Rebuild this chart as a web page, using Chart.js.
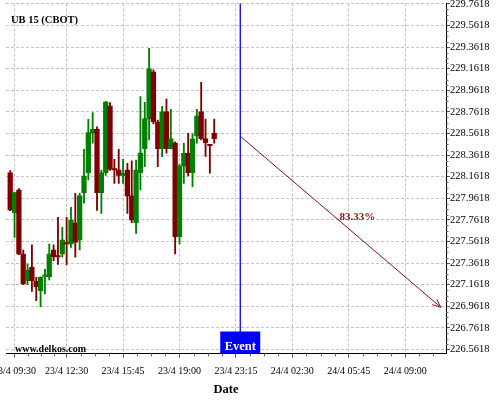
<!DOCTYPE html>
<html>
<head>
<meta charset="utf-8">
<script src="https://cdn.jsdelivr.net/npm/chart.js@4.4.1/dist/chart.umd.min.js"></script>
<style>
  html, body { margin: 0; padding: 0; background: #fff; }
</style>
</head>
<body>
<canvas id="chart" width="500" height="400"></canvas>
<script>
// 15 min candles, index 0 = 23/4 09:15
const opens = [228.199, 227.829, 228.039, 227.446, 227.199, 227.323, 227.194, 227.106, 227.238, 227.236,
  227.483, 227.428, 227.446, 227.548, 227.539, 227.733, 227.576, 228.014, 228.199, 228.567,
  228.601, 228.014, 228.199, 228.817, 228.231, 228.224, 228.175, 228.224, 227.984, 227.736,
  228.199, 228.422, 228.697, 229.132, 228.669, 228.422, 228.764, 228.422, 228.474, 227.607,
  228.261, 228.379, 228.199, 228.539, 228.762, 228.514, 228.456, 228.564];
const closes = [227.854, 228.014, 227.446, 227.169, 227.298, 227.199, 227.143, 227.231, 227.244, 227.446,
  227.421, 227.419, 227.576, 227.539, 227.761, 227.557, 227.984, 228.169, 228.570, 228.601,
  228.014, 228.199, 228.854, 228.231, 228.224, 228.175, 228.194, 227.984, 227.761, 228.224,
  228.382, 228.697, 229.160, 228.672, 228.422, 228.764, 228.422, 228.514, 227.607, 228.261,
  228.379, 228.199, 228.511, 228.724, 228.514, 228.477, 228.449, 228.514];
const highs = [228.218, 228.014, 228.053, 227.483, 227.354, 227.532, 227.231, 227.236, 227.305, 227.539,
  227.532, 227.786, 227.694, 227.786, 227.879, 228.009, 228.009, 228.416, 228.694, 228.755,
  228.625, 228.224, 228.860, 228.848, 228.323, 228.416, 228.323, 228.286, 228.310, 228.317,
  228.903, 228.851, 229.352, 229.151, 228.687, 228.814, 228.880, 228.787, 228.484, 228.280,
  228.472, 228.564, 228.558, 228.787, 229.037, 228.695, 228.461, 228.695];
const lows = [227.847, 227.601, 227.440, 227.162, 227.162, 227.101, 227.014, 226.958, 227.076, 227.206,
  227.384, 227.349, 227.416, 227.347, 227.508, 227.416, 227.483, 227.916, 228.132, 228.472,
  227.849, 227.823, 228.173, 228.220, 228.101, 228.101, 228.101, 227.823, 227.736, 227.638,
  228.039, 228.255, 228.502, 228.650, 228.255, 228.348, 228.379, 228.419, 227.446, 227.539,
  228.101, 228.169, 228.070, 228.472, 228.502, 228.349, 228.194, 228.472];

const xTickIndex = [1, 13, 26, 39, 52, 65, 78, 91];
const xTickLabels = ['23/4 09:30', '23/4 12:30', '23/4 15:45', '23/4 19:00',
  '23/4 23:15', '24/4 02:30', '24/4 05:45', '24/4 09:00'];
const yTickValues = [226.5618, 226.7618, 226.9618, 227.1618, 227.3618, 227.5618, 227.7618, 227.9618,
  228.1618, 228.3618, 228.5618, 228.7618, 228.9618, 229.1618, 229.3618, 229.5618, 229.7618];

const eventIndex = 53;
const forecastPath = [{ x: 53.2, y: 228.53 }, { x: 99.2, y: 226.953 }];
const forecastText = '83.33%';
const forecastTextAt = { x: 80, y: 227.79 };

const UP = '#008000';
const DOWN = '#800000';
const SERIF = '"Liberation Serif", "Times New Roman", serif';

const candleColors = opens.map((o, i) => (closes[i] >= o ? UP : DOWN));
const bodies = opens.map((o, i) => ({ x: i, y: [o, closes[i]] }));
const wicks = opens.map((o, i) => ({ x: i, y: [lows[i], highs[i]] }));

function noPad(scale) {
  scale.paddingLeft = 0;
  scale.paddingRight = 0;
  scale.paddingTop = 0;
  scale.paddingBottom = 0;
}

const overlay = {
  id: 'overlay',
  afterDraw(chart) {
    const { ctx, chartArea, scales: { x, y } } = chart;
    ctx.save();

    // minor ticks
    ctx.strokeStyle = '#666';
    ctx.lineWidth = 1;
    ctx.beginPath();
    const minorX = [];
    for (let k = 0; k < xTickIndex.length - 1; k++) {
      const a = xTickIndex[k], b = xTickIndex[k + 1];
      for (let j = 1; j < 4; j++) minorX.push(a + (b - a) * j / 4);
    }
    for (let v = xTickIndex[xTickIndex.length - 1] + 3.25; v <= x.max; v += 3.25) minorX.push(v);
    minorX.forEach(v => {
      const px = Math.round(x.getPixelForValue(v)) + 0.5;
      ctx.moveTo(px, chartArea.bottom);
      ctx.lineTo(px, chartArea.bottom + 3);
    });
    for (let k = 0; k < yTickValues.length - 1; k++) {
      for (let j = 1; j < 4; j++) {
        const py = Math.round(y.getPixelForValue(yTickValues[k] + 0.05 * j)) + 0.5;
        ctx.moveTo(chartArea.right, py);
        ctx.lineTo(chartArea.right + 2.5, py);
      }
    }
    ctx.stroke();

    // event marker
    const ex = x.getPixelForValue(eventIndex);
    ctx.strokeStyle = '#0000ff';
    ctx.lineWidth = 1.3;
    ctx.beginPath();
    ctx.moveTo(ex, chartArea.top);
    ctx.lineTo(ex, chartArea.bottom);
    ctx.stroke();
    ctx.fillStyle = '#0000ff';
    ctx.fillRect(ex - 20, chartArea.bottom - 22, 40, 22);
    ctx.fillStyle = '#ffffff';
    ctx.font = 'bold 12.5px ' + SERIF;
    ctx.textAlign = 'center';
    ctx.textBaseline = 'middle';
    ctx.fillText('Event', ex, chartArea.bottom - 7);

    // arrow head on the forecast line
    const pts = chart.getDatasetMeta(2).data;
    const p0 = pts[0], p1 = pts[1];
    const ang = Math.atan2(p1.y - p0.y, p1.x - p0.x);
    ctx.strokeStyle = '#8b1010';
    ctx.lineWidth = 1;
    ctx.beginPath();
    ctx.moveTo(p1.x - 9 * Math.cos(ang - 0.4), p1.y - 9 * Math.sin(ang - 0.4));
    ctx.lineTo(p1.x, p1.y);
    ctx.lineTo(p1.x - 9 * Math.cos(ang + 0.4), p1.y - 9 * Math.sin(ang + 0.4));
    ctx.stroke();

    ctx.fillStyle = '#8b1010';
    ctx.font = 'bold 11px ' + SERIF;
    ctx.fillText(forecastText, x.getPixelForValue(forecastTextAt.x), y.getPixelForValue(forecastTextAt.y));

    // captions
    ctx.fillStyle = '#000';
    ctx.textAlign = 'left';
    ctx.font = 'bold 10.5px ' + SERIF;
    ctx.fillText('UB 15 (CBOT)', 11, 20.5);
    ctx.font = 'bold 10px ' + SERIF;
    ctx.fillText('www.delkos.com', 15, 349);
    ctx.restore();
  }
};

new Chart(document.getElementById('chart'), {
  type: 'bar',
  data: {
    datasets: [
      {
        data: bodies,
        backgroundColor: candleColors,
        barThickness: 4.6,
        minBarLength: 1.5,
        grouped: false,
      },
      {
        data: wicks,
        backgroundColor: candleColors,
        barThickness: 1.2,
        grouped: false,
      },
      {
        type: 'line',
        data: forecastPath,
        borderColor: '#8b1010',
        borderWidth: 1,
        pointRadius: 0,
      },
    ],
  },
  options: {
    responsive: false,
    animation: false,
    layout: { padding: { left: 6, top: 3.5, right: 0, bottom: 0 } },
    plugins: { legend: { display: false }, tooltip: { enabled: false } },
    scales: {
      x: {
        type: 'linear',
        min: -0.97,
        max: 100.4,
        offset: false,
        afterBuildTicks: scale => { scale.ticks = xTickIndex.map(v => ({ value: v })); },
        afterFit: scale => { scale.height = 46.5; noPad(scale); },
        grid: { offset: false, color: '#c4c4c4', tickColor: '#555', tickLength: 4 },
        border: { color: '#000', width: 1, dash: [3, 2] },
        ticks: {
          autoSkip: false,
          maxRotation: 0,
          padding: 7.5,
          color: '#000',
          font: { family: SERIF, size: 10 },
          callback: value => xTickLabels[xTickIndex.indexOf(value)],
        },
        title: {
          display: true,
          text: 'Date',
          color: '#000',
          font: { family: SERIF, size: 12.5, weight: 'bold' },
          padding: { top: 0, bottom: 3 },
        },
      },
      y: {
        position: 'right',
        min: 226.525,
        max: 229.766,
        afterBuildTicks: scale => { scale.ticks = yTickValues.map(v => ({ value: v })); },
        afterFit: scale => { scale.width = 54; noPad(scale); },
        grid: { color: '#c4c4c4', tickColor: '#555', tickLength: 4 },
        border: { color: '#000', width: 1, dash: [3, 2] },
        ticks: {
          padding: 0,
          color: '#000',
          font: { family: SERIF, size: 10.5 },
          callback: value => value.toFixed(4),
        },
      },
    },
  },
  plugins: [overlay],
});
</script>
</body>
</html>
